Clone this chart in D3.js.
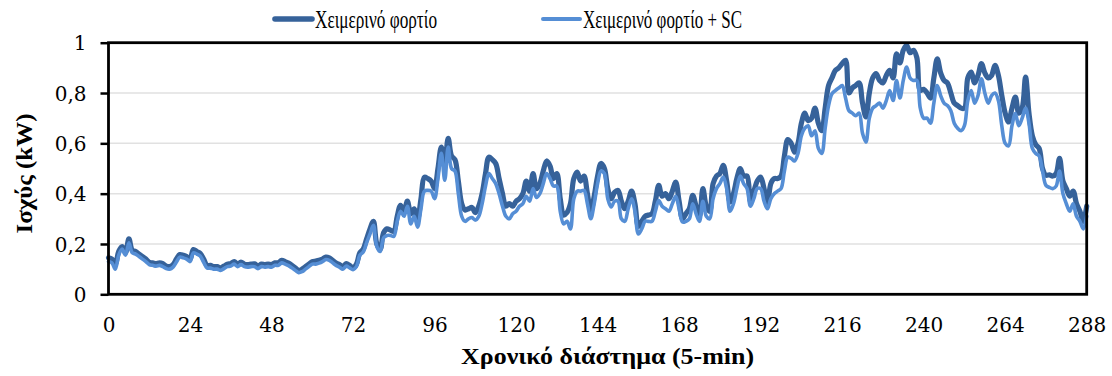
<!DOCTYPE html>
<html>
<head>
<meta charset="utf-8">
<script src="https://cdn.jsdelivr.net/npm/d3@7"></script>
<style>
  html, body { margin: 0; padding: 0; background: #ffffff; }
  svg { display: block; }
</style>
</head>
<body>
<svg id="chart" width="1112" height="376"></svg>
<script>
// Daily winter load profile at 5-minute resolution (288 intervals, 289 samples)
const seriesNames = ["Χειμερινό φορτίο", "Χειμερινό φορτίο + SC"];

const winterLoad = [
  0.145, 0.14, 0.12, 0.17, 0.19, 0.165, 0.22, 0.175, 0.17, 0.16, 0.15, 0.14,
  0.127, 0.125, 0.122, 0.125, 0.122, 0.112, 0.11, 0.118, 0.14, 0.158, 0.155, 0.15,
  0.14, 0.178, 0.17, 0.163, 0.14, 0.115, 0.115, 0.11, 0.11, 0.105, 0.112, 0.12,
  0.122, 0.13, 0.12, 0.128, 0.12, 0.118, 0.12, 0.121, 0.112, 0.12, 0.118, 0.12,
  0.118, 0.125, 0.125, 0.135, 0.13, 0.124, 0.115, 0.105, 0.095, 0.1, 0.11, 0.12,
  0.13, 0.132, 0.135, 0.14, 0.148, 0.145, 0.135, 0.125, 0.118, 0.11, 0.122, 0.115,
  0.105, 0.12, 0.165, 0.18, 0.22, 0.26, 0.29, 0.2, 0.18, 0.245, 0.26, 0.255,
  0.25, 0.31, 0.354, 0.33, 0.37, 0.32, 0.34, 0.3, 0.38, 0.465, 0.46, 0.45,
  0.42, 0.5, 0.585, 0.52, 0.62, 0.55, 0.535, 0.45, 0.36, 0.335, 0.34, 0.345,
  0.325, 0.35, 0.4, 0.48, 0.545, 0.535, 0.52, 0.46, 0.4, 0.35, 0.36, 0.35,
  0.37, 0.38, 0.4, 0.45, 0.41, 0.48, 0.42, 0.44, 0.49, 0.53, 0.51, 0.46,
  0.48, 0.38, 0.315, 0.325, 0.36, 0.46, 0.486, 0.45, 0.47, 0.4, 0.33, 0.39,
  0.47, 0.52, 0.5, 0.42, 0.38, 0.405, 0.413, 0.37, 0.34, 0.37, 0.41, 0.36,
  0.27, 0.29, 0.31, 0.315, 0.32, 0.37, 0.433, 0.39, 0.4, 0.38, 0.41, 0.446,
  0.37, 0.3, 0.32, 0.34, 0.393, 0.35, 0.31, 0.42, 0.35, 0.33, 0.44, 0.47,
  0.48, 0.513, 0.45, 0.367, 0.4, 0.46, 0.5, 0.47, 0.47, 0.37, 0.41, 0.45,
  0.466, 0.42, 0.36, 0.44, 0.46, 0.46, 0.47, 0.55, 0.615, 0.6, 0.565, 0.6,
  0.68, 0.72, 0.69, 0.7, 0.74, 0.68, 0.65, 0.74, 0.83, 0.86, 0.89, 0.9,
  0.917, 0.93, 0.8, 0.82, 0.83, 0.84, 0.76, 0.705, 0.8, 0.86, 0.877, 0.85,
  0.84, 0.87, 0.89, 0.86, 0.956, 0.92, 0.97, 0.99, 0.96, 0.97, 0.94, 0.81,
  0.815, 0.8, 0.78, 0.86, 0.936, 0.88, 0.85, 0.84, 0.8, 0.76, 0.75, 0.74,
  0.74, 0.86, 0.883, 0.84, 0.87, 0.917, 0.88, 0.86, 0.87, 0.91, 0.87, 0.79,
  0.72, 0.685, 0.74, 0.784, 0.72, 0.74, 0.863, 0.72, 0.63, 0.595, 0.58, 0.5,
  0.473, 0.475, 0.47, 0.48, 0.54, 0.45, 0.42, 0.39, 0.41, 0.36, 0.33, 0.29, 0.35
];

const winterLoadSC = [
  0.13, 0.125, 0.1, 0.155, 0.18, 0.155, 0.205, 0.165, 0.16, 0.15, 0.14, 0.13,
  0.118, 0.115, 0.112, 0.115, 0.11, 0.102, 0.1, 0.108, 0.128, 0.148, 0.145, 0.14,
  0.13, 0.165, 0.16, 0.152, 0.128, 0.105, 0.104, 0.1, 0.1, 0.095, 0.102, 0.11,
  0.112, 0.12, 0.11, 0.118, 0.11, 0.108, 0.11, 0.11, 0.102, 0.11, 0.108, 0.11,
  0.108, 0.115, 0.115, 0.125, 0.12, 0.114, 0.105, 0.095, 0.086, 0.09, 0.1, 0.11,
  0.12, 0.12, 0.124, 0.13, 0.138, 0.135, 0.125, 0.115, 0.108, 0.1, 0.112, 0.105,
  0.098, 0.11, 0.155, 0.168, 0.205, 0.24, 0.274, 0.19, 0.17, 0.225, 0.234, 0.234,
  0.23, 0.29, 0.33, 0.31, 0.35, 0.28, 0.31, 0.267, 0.34, 0.41, 0.413, 0.41,
  0.38, 0.46, 0.56, 0.453, 0.585, 0.5, 0.49, 0.4, 0.31, 0.29, 0.3, 0.305,
  0.295, 0.31, 0.36, 0.43, 0.48, 0.46, 0.44, 0.4, 0.35, 0.31, 0.3, 0.32,
  0.33, 0.35, 0.36, 0.39, 0.37, 0.42, 0.385, 0.4, 0.44, 0.48, 0.46, 0.43,
  0.43, 0.33, 0.28, 0.29, 0.26, 0.38, 0.41, 0.41, 0.413, 0.36, 0.3, 0.36,
  0.44, 0.49, 0.48, 0.38, 0.347, 0.37, 0.37, 0.3, 0.29, 0.34, 0.38, 0.33,
  0.24, 0.26, 0.29, 0.29, 0.29, 0.33, 0.373, 0.35, 0.34, 0.33, 0.36, 0.39,
  0.34, 0.287, 0.29, 0.3, 0.36, 0.32, 0.29, 0.37, 0.31, 0.3, 0.38, 0.42,
  0.44, 0.466, 0.42, 0.33, 0.36, 0.42, 0.47, 0.44, 0.42, 0.35, 0.38, 0.42,
  0.42, 0.37, 0.34, 0.38, 0.4, 0.41, 0.42, 0.49, 0.545, 0.54, 0.53, 0.56,
  0.63, 0.66, 0.67, 0.63, 0.65, 0.58, 0.56, 0.66, 0.75, 0.797, 0.81, 0.82,
  0.83, 0.78, 0.73, 0.72, 0.71, 0.72, 0.64, 0.605, 0.7, 0.74, 0.75, 0.76,
  0.74, 0.77, 0.81, 0.77, 0.85, 0.78, 0.85, 0.903, 0.86, 0.85, 0.85, 0.74,
  0.7, 0.7, 0.68, 0.76, 0.83, 0.79, 0.76, 0.75, 0.73, 0.68, 0.66, 0.65,
  0.67, 0.77, 0.81, 0.76, 0.79, 0.857, 0.8, 0.76, 0.79, 0.8, 0.77, 0.67,
  0.6, 0.59, 0.67, 0.718, 0.67, 0.7, 0.74, 0.68, 0.58, 0.56, 0.55, 0.49,
  0.433, 0.425, 0.42, 0.43, 0.49, 0.4, 0.36, 0.33, 0.36, 0.31, 0.29, 0.26, 0.31
];

const xTicks = [0, 24, 48, 72, 96, 120, 144, 168, 192, 216, 240, 264, 288];
const yTicks = [0, 0.2, 0.4, 0.6, 0.8, 1];
const xTitle = "Χρονικό διάστημα (5-min)";
const yTitle = "Ισχύς (kW)";

const colors = ["#36629a", "#558ed5"];
const widths = [5.2, 3.6];

const svg = d3.select("#chart");
const plotL = 108.5, plotR = 1086.7, plotT = 42.7, plotB = 294.3;

const x = d3.scaleLinear().domain([0, 288]).range([plotL, plotR]);
const y = d3.scaleLinear().domain([0, 1]).range([plotB, plotT]);

const fmt = d => (d === 0 || d === 1) ? String(d) : d3.format(".1f")(d).replace(".", ",");

// horizontal gridlines
svg.append("g")
  .selectAll("line")
  .data(yTicks.filter(t => t > 0 && t < 1))
  .join("line")
  .attr("x1", plotL).attr("x2", plotR)
  .attr("y1", d => y(d)).attr("y2", d => y(d))
  .attr("stroke", "#e1e1e1")
  .attr("stroke-width", 1.5);

// y axis: outward ticks, labels on the left
const yAxis = svg.append("g")
  .attr("transform", `translate(${plotL},0)`)
  .call(d3.axisLeft(y).tickValues(yTicks).tickFormat(fmt).tickSize(8).tickPadding(14));
yAxis.select(".domain").remove();
yAxis.selectAll(".tick line").attr("stroke", "#000").attr("stroke-width", 2.5);
yAxis.selectAll(".tick text")
  .attr("font-family", "'DejaVu Serif', serif")
  .attr("font-size", 20)
  .attr("fill", "#000")
  .attr("dy", "0.36em");

// x axis: labels only
const xAxis = svg.append("g")
  .attr("transform", `translate(0,${plotB})`)
  .call(d3.axisBottom(x).tickValues(xTicks).tickSize(0).tickPadding(24));
xAxis.select(".domain").remove();
xAxis.selectAll(".tick text")
  .attr("font-family", "'DejaVu Serif', serif")
  .attr("font-size", 20)
  .attr("fill", "#000");

// data lines (smoothed)
const line = d3.line()
  .x((d, i) => x(i))
  .y(d => y(d))
  .curve(d3.curveCatmullRom.alpha(0.5));

[winterLoad, winterLoadSC].forEach((s, k) => {
  svg.append("path")
    .datum(s)
    .attr("d", line)
    .attr("fill", "none")
    .attr("stroke", colors[k])
    .attr("stroke-width", widths[k])
    .attr("stroke-linejoin", "round")
    .attr("stroke-linecap", "round");
});

// plot frame
svg.append("rect")
  .attr("x", plotL).attr("y", plotT)
  .attr("width", plotR - plotL).attr("height", plotB - plotT)
  .attr("fill", "none")
  .attr("stroke", "#000")
  .attr("stroke-width", 2.8);

// axis titles
svg.append("text")
  .attr("x", (plotL + plotR) / 2 + 10)
  .attr("y", 364)
  .attr("text-anchor", "middle")
  .attr("font-family", "'Liberation Serif', serif")
  .attr("font-weight", "bold")
  .attr("font-size", 24)
  .attr("textLength", 293)
  .attr("lengthAdjust", "spacingAndGlyphs")
  .text(xTitle);

svg.append("text")
  .attr("transform", `translate(32,${(plotT + plotB) / 2 + 5}) rotate(-90)`)
  .attr("text-anchor", "middle")
  .attr("font-family", "'Liberation Serif', serif")
  .attr("font-weight", "bold")
  .attr("font-size", 24)
  .attr("textLength", 120)
  .attr("lengthAdjust", "spacingAndGlyphs")
  .text(yTitle);

// legend
const legendX = [275, 543];
const legendTextW = [122, 159];
const legend = svg.append("g");
seriesNames.forEach((name, k) => {
  legend.append("line")
    .attr("x1", legendX[k]).attr("x2", legendX[k] + 37)
    .attr("y1", 19).attr("y2", 19)
    .attr("stroke", colors[k])
    .attr("stroke-width", widths[k] + 0.4)
    .attr("stroke-linecap", "round");
  legend.append("text")
    .attr("x", legendX[k] + 40)
    .attr("y", 28)
    .attr("font-family", "'Liberation Serif', serif")
    .attr("font-size", 26)
    .attr("textLength", legendTextW[k])
    .attr("lengthAdjust", "spacingAndGlyphs")
    .text(name);
});
</script>
</body>
</html>
